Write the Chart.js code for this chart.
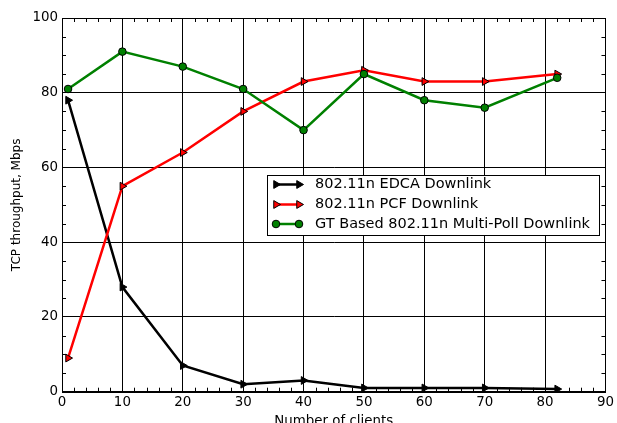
<!DOCTYPE html>
<html>
<head>
<meta charset="utf-8">
<script src="https://cdn.jsdelivr.net/npm/chart.js@4"></script>
<style>
html,body{margin:0;padding:0;background:#fff;overflow:hidden;width:617px;height:423px;}
canvas{display:block;}
</style>
</head>
<body>
<canvas id="c" width="617" height="423" style="width:617px;height:423px"></canvas>
<script>
const clients = [1, 10, 20, 30, 40, 50, 60, 70, 82];
const edca = [78, 28, 7, 2, 3, 1, 1, 1, 0.7];
const pcf = [9, 55, 64, 75, 83, 86, 83, 83, 85];
const gt = [81, 91, 87, 81, 70, 85, 78, 76, 84];
const seriesNames = ["802.11n EDCA Downlink", "802.11n PCF Downlink", "GT Based 802.11n Multi-Poll Downlink"];
const xTitle = "Number of clients";
const yTitle = "TCP throughput, Mbps";

const FONT = "'DejaVu Sans', sans-serif";
const pts = arr => clients.map((c, i) => ({x: c, y: arr[i]}));

const minorTicks = {
  id: 'minorTicks',
  afterDraw(chart) {
    const {ctx, chartArea: a, scales: {x, y}} = chart;
    ctx.save();
    ctx.strokeStyle = '#000';
    ctx.lineWidth = 1;
    ctx.beginPath();
    for (let v = 0; v <= 90; v += 2) {
      if (v % 10 === 0) continue;
      const px = Math.round(x.getPixelForValue(v)) + 0.5;
      ctx.moveTo(px, a.bottom); ctx.lineTo(px, a.bottom - 4);
      ctx.moveTo(px, a.top); ctx.lineTo(px, a.top + 4);
    }
    for (let v = 0; v <= 100; v += 5) {
      if (v % 20 === 0) continue;
      const py = Math.round(y.getPixelForValue(v)) + 0.5;
      ctx.moveTo(a.left, py); ctx.lineTo(a.left + 4, py);
      ctx.moveTo(a.right, py); ctx.lineTo(a.right - 4, py);
    }
    ctx.stroke();
    ctx.strokeRect(Math.round(a.left) + 0.5, Math.round(a.top) + 0.5, Math.round(a.right - a.left), Math.round(a.bottom - a.top));
    ctx.restore();
  }
};

const legendBox = {
  id: 'legendBox',
  afterDraw(chart) {
    const ctx = chart.ctx;
    const bx = 267.5, by = 175.5, bw = 332, bh = 60;
    ctx.save();
    ctx.fillStyle = '#fff';
    ctx.fillRect(bx, by, bw, bh);
    ctx.strokeStyle = '#000';
    ctx.lineWidth = 1;
    ctx.strokeRect(bx, by, bw, bh);
    const rows = [184.5, 204.5, 224];
    ctx.font = "14.5px " + FONT;
    ctx.textBaseline = 'middle';
    chart.data.datasets.forEach((ds, r) => {
      const yy = rows[r];
      ctx.strokeStyle = ds.borderColor;
      ctx.lineWidth = ds.borderWidth;
      ctx.beginPath(); ctx.moveTo(276, yy); ctx.lineTo(299, yy); ctx.stroke();
      [276, 299].forEach(mx => {
        ctx.fillStyle = ds.pointBackgroundColor;
        ctx.strokeStyle = ds.pointBorderColor;
        ctx.lineWidth = ds.pointBorderWidth;
        Chart.helpers.drawPoint(ctx, {
          pointStyle: ds.pointStyle, radius: ds.pointRadius, rotation: ds.pointRotation || 0,
          borderWidth: ds.pointBorderWidth
        }, mx, yy);
      });
      ctx.fillStyle = '#000';
      ctx.fillText(ds.label, 315, yy);
    });
    ctx.restore();
  }
};

new Chart(document.getElementById('c'), {
  type: 'line',
  data: {
    datasets: [
      {label: seriesNames[0], data: pts(edca), borderColor: '#000', borderWidth: 2.5,
       pointStyle: 'triangle', pointRotation: 90, pointRadius: 4.5, pointBackgroundColor: '#000',
       pointBorderColor: '#000', pointBorderWidth: 1, order: 2},
      {label: seriesNames[1], data: pts(pcf), borderColor: '#ff0000', borderWidth: 2.5,
       pointStyle: 'triangle', pointRotation: 90, pointRadius: 4.5, pointBackgroundColor: '#ff0000',
       pointBorderColor: '#000', pointBorderWidth: 1, order: 1},
      {label: seriesNames[2], data: pts(gt), borderColor: '#008000', borderWidth: 2.5,
       pointStyle: 'circle', pointRadius: 3.8, pointBackgroundColor: '#008000',
       pointBorderColor: '#000', pointBorderWidth: 1, order: 0}
    ]
  },
  options: {
    responsive: false,
    animation: false,
    layout: {padding: {top: 18, right: 11, left: 0, bottom: 0}},
    plugins: {legend: {display: false}, tooltip: {enabled: false}},
    elements: {line: {tension: 0}},
    scales: {
      x: {
        type: 'linear', min: 0, max: 90,
        ticks: {stepSize: 10, color: '#000', font: {family: FONT, size: 13.4}, padding: 3, maxRotation: 0},
        grid: {color: '#000', lineWidth: 1, drawTicks: false},
        border: {color: '#000', width: 1},
        title: {display: true, text: xTitle, color: '#000', font: {family: FONT, size: 13.4}, padding: {top: 0, bottom: -6.5}},
        afterFit(s) { s.height = 31.3; }
      },
      y: {
        type: 'linear', min: 0, max: 100,
        ticks: {stepSize: 20, color: '#000', font: {family: FONT, size: 13.4}, padding: 4},
        grid: {color: '#000', lineWidth: 1, drawTicks: false},
        border: {color: '#000', width: 1},
        title: {display: true, text: yTitle, color: '#000', font: {family: FONT, size: 12}, padding: {top: 10, bottom: 0}},
        afterFit(s) { s.width = 62; }
      }
    }
  },
  plugins: [minorTicks, legendBox]
});
</script>
</body>
</html>
